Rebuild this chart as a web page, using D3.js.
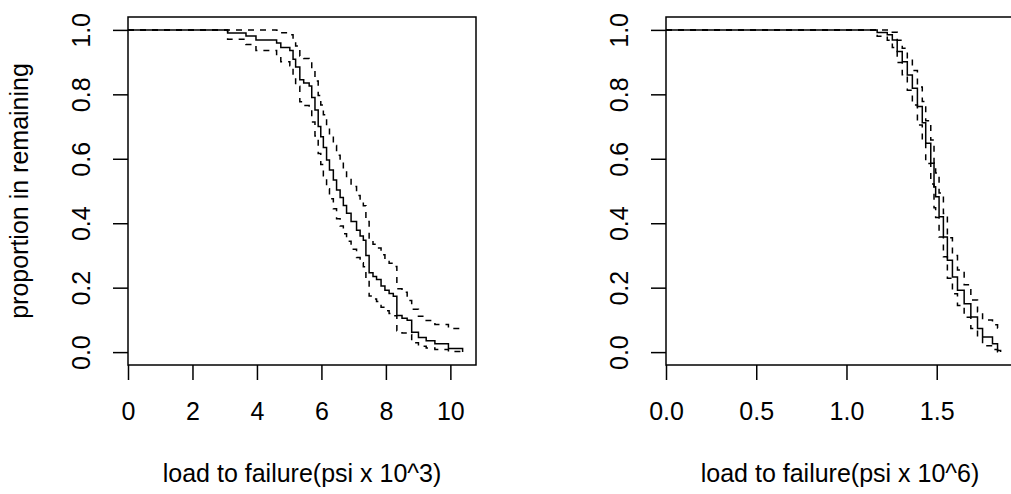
<!DOCTYPE html>
<html>
<head>
<meta charset="utf-8">
<script src="https://cdn.jsdelivr.net/npm/d3@7"></script>
<style>
  body { margin: 0; background: #fff; }
  svg text { font-family: "Liberation Sans", Arial, Helvetica, sans-serif; font-size: 25px; fill: #000; }
</style>
</head>
<body>
<div id="chart"></div>
<script>
// Left panel: load to failure (psi x 10^3)
const leftTime = [3.09, 3.66, 3.97, 4.61, 4.74, 5.02, 5.12, 5.20, 5.33, 5.45, 5.62, 5.70, 5.80, 5.90, 5.98, 6.06, 6.16, 6.25, 6.37, 6.47, 6.58, 6.68, 6.78, 6.92, 7.09, 7.20, 7.30, 7.38, 7.48, 7.60, 7.71, 7.85, 7.97, 8.10, 8.23, 8.34, 8.50, 8.66, 8.80, 9.01, 9.25, 9.52, 9.94, 10.38];
const leftSurv = [0.990, 0.981, 0.969, 0.959, 0.945, 0.936, 0.909, 0.885, 0.845, 0.835, 0.826, 0.790, 0.751, 0.700, 0.668, 0.635, 0.596, 0.565, 0.534, 0.503, 0.480, 0.455, 0.431, 0.405, 0.378, 0.360, 0.347, 0.300, 0.246, 0.235, 0.225, 0.205, 0.192, 0.182, 0.173, 0.114, 0.105, 0.099, 0.062, 0.045, 0.035, 0.026, 0.011, 0.000];
const leftLower = [0.971, 0.955, 0.936, 0.921, 0.901, 0.889, 0.854, 0.825, 0.777, 0.765, 0.755, 0.714, 0.671, 0.616, 0.582, 0.547, 0.507, 0.476, 0.445, 0.414, 0.391, 0.367, 0.344, 0.319, 0.294, 0.277, 0.265, 0.222, 0.174, 0.165, 0.157, 0.139, 0.128, 0.120, 0.113, 0.066, 0.059, 0.055, 0.029, 0.018, 0.013, 0.008, 0.002, 0.002];
const leftUpper = [1.000, 1.000, 1.000, 0.999, 0.991, 0.985, 0.967, 0.950, 0.919, 0.911, 0.904, 0.874, 0.841, 0.796, 0.767, 0.737, 0.700, 0.671, 0.641, 0.611, 0.589, 0.564, 0.540, 0.514, 0.486, 0.468, 0.454, 0.405, 0.347, 0.335, 0.323, 0.302, 0.287, 0.276, 0.266, 0.197, 0.186, 0.160, 0.133, 0.111, 0.098, 0.086, 0.073, 0.073];
const leftTicks = [0, 2, 4, 6, 8, 10];

// Right panel: load to failure (psi x 10^6)
const rightTime = [1.170, 1.226, 1.254, 1.281, 1.309, 1.337, 1.365, 1.393, 1.420, 1.439, 1.467, 1.485, 1.494, 1.513, 1.537, 1.559, 1.587, 1.615, 1.652, 1.689, 1.726, 1.754, 1.809, 1.837, 1.854];
const rightSurv = [0.992, 0.985, 0.969, 0.933, 0.901, 0.860, 0.819, 0.762, 0.712, 0.648, 0.586, 0.513, 0.482, 0.420, 0.357, 0.285, 0.233, 0.192, 0.150, 0.109, 0.073, 0.047, 0.026, 0.005, 0.000];
const rightLower = [0.980, 0.968, 0.945, 0.899, 0.861, 0.813, 0.767, 0.705, 0.652, 0.585, 0.522, 0.448, 0.418, 0.357, 0.296, 0.229, 0.181, 0.145, 0.108, 0.073, 0.045, 0.020, 0.008, 0.001, 0.001];
const rightUpper = [1.000, 1.000, 0.993, 0.968, 0.943, 0.909, 0.874, 0.823, 0.778, 0.718, 0.658, 0.587, 0.556, 0.494, 0.430, 0.355, 0.300, 0.255, 0.209, 0.162, 0.125, 0.100, 0.085, 0.075, 0.075];
const rightTicks = [0, 0.5, 1.0, 1.5];

const yTicks = [0, 0.2, 0.4, 0.6, 0.8, 1.0];

const width = 1011;
const height = 494;
const box = { top: 17, bottom: 365, width: 348 };
const tickLen = 15;

const svg = d3.select('#chart').append('svg')
  .attr('width', width)
  .attr('height', height);

// R style: y range padded 4% both ends
const yScale = d3.scaleLinear()
  .domain([-0.04, 1.04])
  .range([box.bottom, box.top]);

function drawPanel({ left, time, surv, lower, upper, ticks, fmt, title, yTitle }) {
  const xMax = d3.max(time) * 1.04;
  const xScale = d3.scaleLinear()
    .domain([0, xMax])
    .range([left, left + box.width]);

  const g = svg.append('g');

  // x axis
  const xAxis = g.append('g')
    .attr('transform', `translate(0, ${box.bottom})`)
    .call(d3.axisBottom(xScale).tickValues(ticks).tickSize(tickLen).tickPadding(0).tickFormat(fmt));
  xAxis.select('.domain').remove();
  xAxis.selectAll('line').attr('stroke', '#000').attr('stroke-width', 1.5);
  xAxis.selectAll('text')
    .attr('y', 55)
    .attr('dy', 0)
    .attr('fill', '#000');

  // y axis, labels rotated like R's las = 0
  const yAxis = g.append('g')
    .attr('transform', `translate(${left}, 0)`)
    .call(d3.axisLeft(yScale).tickValues(yTicks).tickSize(tickLen).tickFormat(d3.format('.1f')));
  yAxis.select('.domain').remove();
  yAxis.selectAll('line').attr('stroke', '#000').attr('stroke-width', 1.5);
  yAxis.selectAll('text')
    .attr('x', 0)
    .attr('y', -38)
    .attr('dy', 0)
    .attr('transform', 'rotate(-90)')
    .attr('text-anchor', 'middle')
    .attr('fill', '#000');

  // box
  g.append('rect')
    .attr('x', left)
    .attr('y', box.top)
    .attr('width', box.width)
    .attr('height', box.bottom - box.top)
    .attr('fill', 'none')
    .attr('stroke', '#000')
    .attr('stroke-width', 1.5);

  const step = d3.line()
    .x(d => xScale(d[0]))
    .y(d => yScale(d[1]))
    .curve(d3.curveStepAfter);

  const series = [
    { vals: lower, dash: '6,6' },
    { vals: upper, dash: '6,6' },
    { vals: surv, dash: null }
  ];

  series.forEach(s => {
    const pts = [[0, 1]].concat(time.map((t, i) => [t, s.vals[i]]));
    g.append('path')
      .attr('d', step(pts))
      .attr('fill', 'none')
      .attr('stroke', '#000')
      .attr('stroke-width', 1.5)
      .attr('stroke-dasharray', s.dash);
  });

  // axis titles
  g.append('text')
    .attr('x', left + box.width / 2)
    .attr('y', 482)
    .attr('text-anchor', 'middle')
    .text(title);

  if (yTitle) {
    g.append('text')
      .attr('transform', `translate(28, ${(box.top + box.bottom) / 2}) rotate(-90)`)
      .attr('text-anchor', 'middle')
      .text(yTitle);
  }
}

drawPanel({
  left: 128,
  time: leftTime,
  surv: leftSurv,
  lower: leftLower,
  upper: leftUpper,
  ticks: leftTicks,
  fmt: d3.format('d'),
  title: 'load to failure(psi x 10^3)',
  yTitle: 'proportion in remaining'
});

drawPanel({
  left: 666,
  time: rightTime,
  surv: rightSurv,
  lower: rightLower,
  upper: rightUpper,
  ticks: rightTicks,
  fmt: d3.format('.1f'),
  title: 'load to failure(psi x 10^6)',
  yTitle: null
});
</script>
</body>
</html>
